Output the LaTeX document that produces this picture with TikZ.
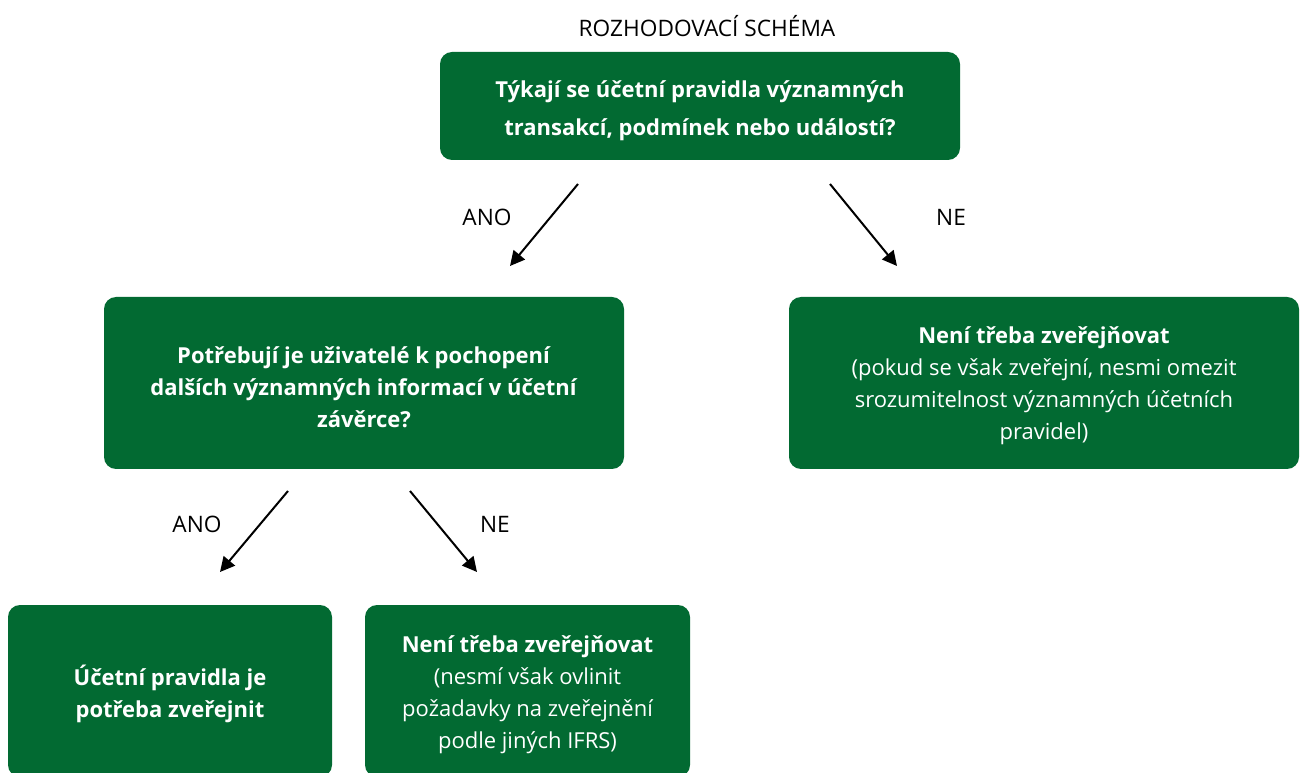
\documentclass[tikz,border=0pt]{standalone}
\usepackage{fontspec}
\setmainfont{Open Sans}
\usetikzlibrary{arrows.meta}
\definecolor{boxgreen}{RGB}{2,106,50}
\tikzset{
  box/.style={fill=boxgreen, rounded corners=9pt, inner sep=0pt},
  txt/.style={text=white, align=center, inner sep=0pt, font=\fontsize{16.5}{24}\selectfont},
  lbl/.style={font=\fontsize{17}{20}\selectfont, inner sep=0pt},
  arr/.style={line width=1.5pt, -{Triangle[length=11pt,width=11pt]}}
}
\begin{document}
\begin{tikzpicture}[x=0.75pt,y=-0.75pt]
\clip (0,0) rectangle (1300,773);
\fill[white] (0,0) rectangle (1300,773);
\node[lbl] (title) at (707,26) {ROZHODOVACÍ SCHÉMA};
\node[box, minimum width=390pt, minimum height=81pt] (q1) at (700,106) {};
\node[txt, font=\fontsize{16.5}{28.5}\selectfont] (q1t) at ([yshift=-3.75pt]q1.center)
  {\textbf{Týkají se účetní pravidla významných}\\\textbf{transakcí, podmínek nebo událostí?}};
\node[box, minimum width=390pt, minimum height=129pt] (q2) at (364,383) {};
\node[txt] (q2t) at ([yshift=-3pt]q2.center)
  {\textbf{Potřebují je uživatelé k pochopení}\\\textbf{dalších významných informací v účetní}\\\textbf{závěrce?}};
\node[box, minimum width=382.5pt, minimum height=129pt] (r1) at (1044,383) {};
\node[txt] (r1t) at ([yshift=-2.25pt]r1.center)
  {\textbf{Není třeba zveřejňovat}\\(pokud se však zveřejní, nesmi omezit\\srozumitelnost významných účetních\\pravidel)};
\node[box, minimum width=243pt, minimum height=129pt] (r2) at (170,691) {};
\node[txt] (r2t) at ([yshift=-2.25pt]r2.center)
  {\textbf{Účetní pravidla je}\\\textbf{potřeba zveřejnit}};
\node[box, minimum width=243.75pt, minimum height=129pt] (r3) at (527.5,691) {};
\node[txt] (r3t) at ([yshift=-3pt]r3.center)
  {\textbf{Není třeba zveřejňovat}\\(nesmí však ovlinit\\požadavky na zveřejnění\\podle jiných IFRS)};
\coordinate (a1s) at (578,184); \coordinate (a1e) at (510,266);
\coordinate (a2s) at (830,184); \coordinate (a2e) at (897,266);
\coordinate (a3s) at (288,491); \coordinate (a3e) at (220,572);
\coordinate (a4s) at (410,491); \coordinate (a4e) at (477,572);
\draw[arr] (a1s) -- (a1e);
\draw[arr] (a2s) -- (a2e);
\draw[arr] (a3s) -- (a3e);
\draw[arr] (a4s) -- (a4e);
\node[lbl] (l1) at (487,217) {ANO};
\node[lbl] (l2) at (951,217) {NE};
\node[lbl] (l3) at (197,524) {ANO};
\node[lbl] (l4) at (495,524) {NE};
\end{tikzpicture}
\end{document}
